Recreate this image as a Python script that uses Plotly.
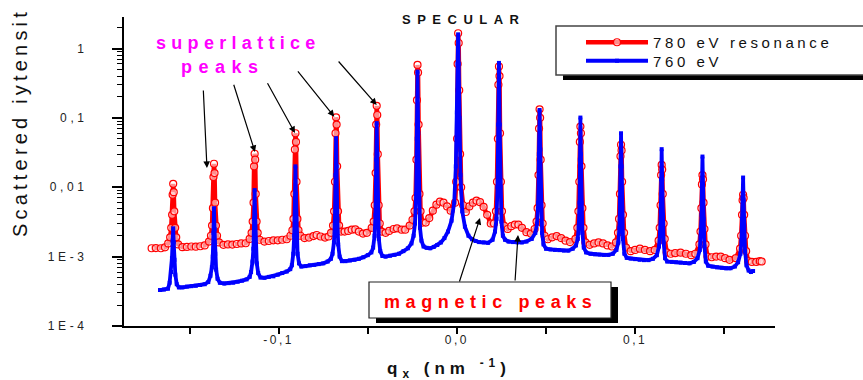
import plotly.graph_objects as go

# ---------------- data ----------------
# 780 eV resonance (red, open circles)
red_q = (
    [-0.1713, -0.1689, -0.1661, -0.1638]
    + [-0.1620, -0.1609, -0.1603, -0.1598, -0.1595, -0.1592, -0.1589, -0.1586, -0.1581, -0.1575, -0.1564]
    + [-0.1540, -0.1515, -0.1490, -0.1465, -0.1440, -0.1415]
    + [-0.1391, -0.1380, -0.1374, -0.1369, -0.1366, -0.1363, -0.1360, -0.1357, -0.1352, -0.1346, -0.1335]
    + [-0.1310, -0.1285, -0.1260, -0.1235, -0.1210, -0.1185]
    + [-0.1163, -0.1152, -0.1146, -0.1141, -0.1138, -0.1135, -0.1132, -0.1129, -0.1124, -0.1118, -0.1107]
    + [-0.1080, -0.1055, -0.1030, -0.1005, -0.0980, -0.0955]
    + [-0.0934, -0.0923, -0.0917, -0.0912, -0.0909, -0.0906, -0.0903, -0.0900, -0.0895, -0.0889, -0.0878]
    + [-0.0855, -0.0830, -0.0805, -0.0787, -0.0765, -0.0740, -0.0720]
    + [-0.0706, -0.0695, -0.0689, -0.0684, -0.0681, -0.0678, -0.0675, -0.0672, -0.0667, -0.0661, -0.0650]
    + [-0.0630, -0.0610, -0.0590, -0.0570, -0.0550, -0.0527, -0.0505]
    + [-0.0478, -0.0467, -0.0461, -0.0456, -0.0453, -0.0450, -0.0447, -0.0444, -0.0439, -0.0433, -0.0422]
    + [-0.0400, -0.0380, -0.0355, -0.0336, -0.0310, -0.0290, -0.0265]
    + [-0.0249, -0.0238, -0.0232, -0.0227, -0.0224, -0.0221, -0.0218, -0.0215, -0.0210, -0.0204, -0.0193]
    + [-0.0175, -0.0155, -0.0135, -0.0115, -0.0095, -0.0075, -0.0055, -0.0035]
    + [-0.0010, -0.0004, 0.0001, 0.0004, 0.0007, 0.0010, 0.0013, 0.0018, 0.0024, 0.0035]
    + [0.0050, 0.0070, 0.0090, 0.0110, 0.0130, 0.0150, 0.0170, 0.0190]
    + [0.0208, 0.0219, 0.0225, 0.0230, 0.0233, 0.0236, 0.0239, 0.0242, 0.0247, 0.0253, 0.0264]
    + [0.0285, 0.0305, 0.0325, 0.0345, 0.0365, 0.0390, 0.0415]
    + [0.0436, 0.0447, 0.0453, 0.0458, 0.0461, 0.0464, 0.0467, 0.0470, 0.0475, 0.0481, 0.0492]
    + [0.0510, 0.0535, 0.0560, 0.0585, 0.0610, 0.0635]
    + [0.0665, 0.0676, 0.0682, 0.0687, 0.0690, 0.0693, 0.0696, 0.0699, 0.0704, 0.0710, 0.0721]
    + [0.0745, 0.0770, 0.0795, 0.0820, 0.0845, 0.0870]
    + [0.0893, 0.0904, 0.0910, 0.0915, 0.0918, 0.0921, 0.0924, 0.0927, 0.0932, 0.0938, 0.0949]
    + [0.0975, 0.1000, 0.1027, 0.1055, 0.1084, 0.1110]
    + [0.1132, 0.1138, 0.1143, 0.1146, 0.1149, 0.1152, 0.1155, 0.1160, 0.1166, 0.1177]
    + [0.1200, 0.1225, 0.1255, 0.1285, 0.1315, 0.1338]
    + [0.1361, 0.1367, 0.1372, 0.1375, 0.1378, 0.1381, 0.1384, 0.1389, 0.1395, 0.1406]
    + [0.1430, 0.1455, 0.1480, 0.1505, 0.1530, 0.1565]
    + [0.1589, 0.1595, 0.1600, 0.1603, 0.1606, 0.1609, 0.1612, 0.1617, 0.1623, 0.1634]
    + [0.1655, 0.1680, 0.1700, 0.1710]
)
red_int = (
    [1.32e-3, 1.33e-3, 1.32e-3, 1.36e-3]
    + [1.55e-3, 1.9e-3, 2.6e-3, 4.0e-3, 7.8e-3, 1.12e-2, 8.5e-3, 4.5e-3, 2.6e-3, 1.9e-3, 1.5e-3]
    + [1.37e-3, 1.38e-3, 1.40e-3, 1.39e-3, 1.41e-3, 1.45e-3]
    + [1.65e-3, 2.0e-3, 2.8e-3, 5.0e-3, 1.4e-2, 2.18e-2, 1.6e-2, 6.0e-3, 2.8e-3, 2.0e-3, 1.6e-3]
    + [1.48e-3, 1.50e-3, 1.49e-3, 1.52e-3, 1.55e-3, 1.56e-3]
    + [1.8e-3, 2.2e-3, 3.2e-3, 6.0e-3, 2.0e-2, 3.04e-2, 2.5e-2, 8.0e-3, 3.2e-3, 2.2e-3, 1.75e-3]
    + [1.65e-3, 1.68e-3, 1.72e-3, 1.72e-3, 1.75e-3, 1.78e-3]
    + [2.0e-3, 2.4e-3, 3.5e-3, 8.0e-3, 3.5e-2, 6.0e-2, 4.5e-2, 1.2e-2, 3.5e-3, 2.4e-3, 2.0e-3]
    + [1.85e-3, 1.88e-3, 1.98e-3, 2.05e-3, 1.95e-3, 1.88e-3, 1.95e-3]
    + [2.2e-3, 2.8e-3, 4.5e-3, 1.2e-2, 6.0e-2, 1.02e-1, 8.0e-2, 2.0e-2, 4.5e-3, 2.8e-3, 2.3e-3]
    + [2.3e-3, 2.35e-3, 2.45e-3, 2.47e-3, 2.3e-3, 2.15e-3, 2.2e-3]
    + [2.6e-3, 3.2e-3, 5.5e-3, 1.6e-2, 8.0e-2, 1.49e-1, 1.1e-1, 3.0e-2, 5.5e-3, 3.0e-3, 2.3e-3]
    + [2.2e-3, 2.35e-3, 2.5e-3, 2.56e-3, 2.45e-3, 2.45e-3, 2.8e-3]
    + [3.4e-3, 4.5e-3, 7.0e-3, 2.5e-2, 1.8e-1, 5.8e-1, 4.5e-1, 8.0e-2, 8.0e-3, 4.5e-3, 3.1e-3]
    + [3.1e-3, 3.6e-3, 4.6e-3, 5.6e-3, 6.2e-3, 6.0e-3, 5.3e-3, 4.6e-3]
    + [6.0e-3, 1.2e-2, 5.0e-2, 6.0e-1, 1.66, 1.2, 2.5e-1, 3.0e-2, 1.0e-2, 5.5e-3]
    + [4.4e-3, 5.3e-3, 6.0e-3, 6.4e-3, 6.1e-3, 5.2e-3, 4.0e-3, 3.0e-3]
    + [3.0e-3, 4.5e-3, 1.2e-2, 5.0e-2, 3.0e-1, 5.5e-1, 4.0e-1, 6.0e-2, 1.2e-2, 4.5e-3, 2.8e-3]
    + [2.5e-3, 2.75e-3, 2.9e-3, 2.9e-3, 2.6e-3, 2.25e-3, 2.15e-3]
    + [2.5e-3, 3.2e-3, 5.0e-3, 1.5e-2, 7.0e-2, 1.33e-1, 1.0e-1, 2.5e-2, 5.5e-3, 3.0e-3, 2.0e-3]
    + [1.78e-3, 1.9e-3, 1.98e-3, 1.85e-3, 1.7e-3, 1.62e-3]
    + [1.8e-3, 2.6e-3, 4.5e-3, 1.2e-2, 4.5e-2, 7.5e-2, 6.0e-2, 2.0e-2, 5.0e-3, 2.6e-3, 1.6e-3]
    + [1.48e-3, 1.55e-3, 1.6e-3, 1.55e-3, 1.45e-3, 1.4e-3]
    + [1.6e-3, 2.2e-3, 3.5e-3, 8.0e-3, 2.8e-2, 4.1e-2, 3.4e-2, 1.2e-2, 4.0e-3, 2.2e-3, 1.35e-3]
    + [1.2e-3, 1.25e-3, 1.3e-3, 1.25e-3, 1.2e-3, 1.25e-3]
    + [1.7e-3, 2.6e-3, 5.5e-3, 1.5e-2, 2.1e-2, 1.8e-2, 8.0e-3, 3.0e-3, 1.8e-3, 1.15e-3]
    + [1.1e-3, 1.12e-3, 1.14e-3, 1.1e-3, 1.05e-3, 1.1e-3]
    + [1.5e-3, 2.3e-3, 5.0e-3, 1.1e-2, 1.5e-2, 1.3e-2, 6.0e-3, 2.5e-3, 1.5e-3, 1.0e-3]
    + [9.8e-4, 1.0e-3, 1.0e-3, 9.5e-4, 9.0e-4, 9.5e-4]
    + [1.3e-3, 2.0e-3, 4.0e-3, 6.5e-3, 7.8e-3, 7.0e-3, 4.0e-3, 2.0e-3, 1.2e-3, 8.6e-4]
    + [8.4e-4, 8.4e-4, 8.6e-4, 8.5e-4]
)

# 760 eV (blue, small squares)
blue_q = (
    [-0.1666, -0.1644, -0.1621]
    + [-0.1612, -0.1604, -0.1599, -0.1595, -0.1592, -0.1589, -0.1585, -0.1580, -0.1572, -0.1560]
    + [-0.1540, -0.1515, -0.1490, -0.1465, -0.1440, -0.1415, -0.1395]
    + [-0.1383, -0.1375, -0.1370, -0.1366, -0.1363, -0.1360, -0.1356, -0.1351, -0.1343, -0.1330]
    + [-0.1305, -0.1280, -0.1255, -0.1230, -0.1205, -0.1180, -0.1163]
    + [-0.1155, -0.1147, -0.1142, -0.1138, -0.1135, -0.1132, -0.1128, -0.1123, -0.1115, -0.1102]
    + [-0.1080, -0.1055, -0.1030, -0.1005, -0.0980, -0.0955, -0.0935]
    + [-0.0926, -0.0918, -0.0913, -0.0909, -0.0906, -0.0903, -0.0899, -0.0894, -0.0886, -0.0873]
    + [-0.0850, -0.0825, -0.0800, -0.0775, -0.0750, -0.0725, -0.0707]
    + [-0.0698, -0.0690, -0.0685, -0.0681, -0.0678, -0.0675, -0.0671, -0.0666, -0.0658, -0.0645]
    + [-0.0625, -0.0600, -0.0575, -0.0550, -0.0525, -0.0500, -0.0480]
    + [-0.0470, -0.0462, -0.0457, -0.0453, -0.0450, -0.0447, -0.0443, -0.0438, -0.0430, -0.0418]
    + [-0.0400, -0.0375, -0.0350, -0.0325, -0.0300, -0.0275, -0.0255]
    + [-0.0243, -0.0235, -0.0229, -0.0225, -0.0221, -0.0217, -0.0213, -0.0207, -0.0199, -0.0187]
    + [-0.0170, -0.0150, -0.0130, -0.0110, -0.0090, -0.0070, -0.0050, -0.0030]
    + [-0.0015, -0.0006, 0.0000, 0.0004, 0.0007, 0.0010, 0.0014, 0.0020, 0.0030, 0.0045]
    + [0.0065, 0.0085, 0.0105, 0.0125, 0.0150, 0.0175, 0.0200]
    + [0.0214, 0.0222, 0.0228, 0.0232, 0.0236, 0.0240, 0.0244, 0.0250, 0.0258, 0.0270]
    + [0.0290, 0.0315, 0.0340, 0.0365, 0.0390, 0.0420]
    + [0.0440, 0.0450, 0.0456, 0.0460, 0.0464, 0.0468, 0.0472, 0.0478, 0.0486, 0.0500]
    + [0.0525, 0.0550, 0.0575, 0.0600, 0.0625, 0.0650, 0.0668]
    + [0.0678, 0.0684, 0.0688, 0.0690, 0.0693, 0.0696, 0.0699, 0.0704, 0.0712, 0.0725]
    + [0.0750, 0.0775, 0.0800, 0.0825, 0.0850, 0.0875, 0.0895]
    + [0.0906, 0.0912, 0.0916, 0.0918, 0.0921, 0.0924, 0.0927, 0.0932, 0.0940, 0.0953]
    + [0.0975, 0.1000, 0.1025, 0.1050, 0.1075, 0.1100, 0.1122]
    + [0.1134, 0.1140, 0.1144, 0.1146, 0.1149, 0.1152, 0.1155, 0.1160, 0.1168, 0.1180]
    + [0.1205, 0.1230, 0.1255, 0.1280, 0.1305, 0.1330, 0.1350]
    + [0.1363, 0.1369, 0.1373, 0.1375, 0.1378, 0.1381, 0.1384, 0.1389, 0.1397, 0.1410]
    + [0.1435, 0.1460, 0.1485, 0.1510, 0.1535, 0.1560, 0.1578]
    + [0.1591, 0.1597, 0.1601, 0.1603, 0.1606, 0.1609, 0.1612, 0.1617, 0.1625, 0.1637]
    + [0.1650, 0.1662]
)
blue_int = (
    [3.3e-4, 3.35e-4, 3.45e-4]
    + [4.2e-4, 6.0e-4, 9.5e-4, 1.7e-3, 2.56e-3, 1.6e-3, 9.0e-4, 5.5e-4, 4.0e-4, 3.6e-4]
    + [3.6e-4, 3.7e-4, 3.75e-4, 3.8e-4, 3.9e-4, 4.0e-4, 4.3e-4]
    + [5.3e-4, 7.0e-4, 1.0e-3, 2.2e-3, 4.98e-3, 2.5e-3, 1.1e-3, 6.5e-4, 4.8e-4, 4.2e-4]
    + [4.1e-4, 4.15e-4, 4.2e-4, 4.35e-4, 4.5e-4, 4.7e-4, 5.1e-4]
    + [6.0e-4, 8.5e-4, 1.3e-3, 3.5e-3, 9.1e-3, 4.0e-3, 1.4e-3, 8.0e-4, 5.8e-4, 5.0e-4]
    + [4.95e-4, 5.1e-4, 5.2e-4, 5.5e-4, 5.8e-4, 6.1e-4, 6.6e-4]
    + [7.5e-4, 1.1e-3, 2.0e-3, 7.0e-3, 2.0e-2, 8.0e-3, 2.2e-3, 1.1e-3, 8.0e-4, 7.2e-4]
    + [7.3e-4, 7.5e-4, 7.6e-4, 7.8e-4, 8.0e-4, 8.5e-4, 9.3e-4]
    + [1.1e-3, 1.6e-3, 3.0e-3, 1.5e-2, 5.1e-2, 2.0e-2, 3.5e-3, 1.5e-3, 1.0e-3, 8.6e-4]
    + [8.6e-4, 8.8e-4, 9.0e-4, 9.3e-4, 9.8e-4, 1.05e-3, 1.15e-3]
    + [1.35e-3, 2.0e-3, 4.0e-3, 2.5e-2, 8.4e-2, 3.0e-2, 4.5e-3, 1.8e-3, 1.2e-3, 1.02e-3]
    + [1.0e-3, 1.03e-3, 1.06e-3, 1.1e-3, 1.2e-3, 1.32e-3, 1.55e-3]
    + [2.0e-3, 3.0e-3, 8.0e-3, 5.0e-2, 4.65e-1, 6.0e-2, 8.0e-3, 2.6e-3, 1.7e-3, 1.4e-3]
    + [1.34e-3, 1.32e-3, 1.38e-3, 1.47e-3, 1.6e-3, 1.85e-3, 2.3e-3, 3.3e-3]
    + [6.0e-3, 2.0e-2, 1.2e-1, 6.0e-1, 1.6, 6.0e-1, 1.0e-1, 1.5e-2, 4.5e-3, 2.7e-3]
    + [2.0e-3, 1.78e-3, 1.68e-3, 1.62e-3, 1.6e-3, 1.58e-3, 1.75e-3]
    + [2.3e-3, 3.5e-3, 1.0e-2, 8.0e-2, 6.2e-1, 8.0e-2, 1.0e-2, 3.2e-3, 2.0e-3, 1.75e-3]
    + [1.65e-3, 1.62e-3, 1.6e-3, 1.6e-3, 1.65e-3, 1.8e-3]
    + [2.2e-3, 3.0e-3, 6.0e-3, 3.0e-2, 1.3e-1, 3.5e-2, 6.0e-3, 2.2e-3, 1.5e-3, 1.3e-3]
    + [1.27e-3, 1.25e-3, 1.24e-3, 1.22e-3, 1.22e-3, 1.3e-3, 1.45e-3]
    + [1.8e-3, 2.8e-3, 6.0e-3, 2.5e-2, 1.01e-1, 3.0e-2, 6.0e-3, 2.2e-3, 1.35e-3, 1.15e-3]
    + [1.1e-3, 1.08e-3, 1.07e-3, 1.06e-3, 1.06e-3, 1.1e-3, 1.25e-3]
    + [1.6e-3, 2.6e-3, 5.5e-3, 2.0e-2, 6.0e-2, 2.0e-2, 5.0e-3, 1.8e-3, 1.1e-3, 9.6e-4]
    + [9.4e-4, 9.2e-4, 9.0e-4, 8.9e-4, 8.9e-4, 9.3e-4, 1.05e-3]
    + [1.4e-3, 2.2e-3, 4.5e-3, 1.3e-2, 3.54e-2, 1.3e-2, 4.0e-3, 1.6e-3, 9.5e-4, 8.5e-4]
    + [8.4e-4, 8.3e-4, 8.2e-4, 8.1e-4, 8.0e-4, 8.4e-4, 9.5e-4]
    + [1.25e-3, 2.0e-3, 4.0e-3, 1.1e-2, 2.77e-2, 1.1e-2, 3.5e-3, 1.4e-3, 8.5e-4, 7.4e-4]
    + [7.2e-4, 7.0e-4, 6.9e-4, 6.8e-4, 6.8e-4, 7.2e-4, 8.3e-4]
    + [1.1e-3, 1.7e-3, 3.5e-3, 7.0e-3, 1.38e-2, 6.5e-3, 2.8e-3, 1.2e-3, 7.5e-4, 6.3e-4]
    + [6.0e-4, 6.2e-4]
)
assert len(red_q) == len(red_int)
assert len(blue_q) == len(blue_int)

series_names = ["780 eV resonance", "760 eV"]
y_tick_vals = [1e-4, 1e-3, 1e-2, 1e-1, 1]
y_tick_text = ["1E-4", "1E-3", "0,01", "0,1", "1"]
x_tick_vals = [-0.15, -0.1, -0.05, 0.0, 0.05, 0.1, 0.15]
x_tick_text = ["", "-0,1", "", "0,0", "", "0,1", ""]

# ---------------- layout helpers ----------------
W, H = 863, 380
ML, MR, MT, MB = 124, 88, 17, 54
PW, PH = W - ML - MR, H - MT - MB
FONT = "Arial, Liberation Sans, sans-serif"


def px_x(px):
    return (px - ML) / PW


def px_y(py):
    return (H - MB - py) / PH


def sp(text, s):
    return f'<span style="letter-spacing:{s}px">{text}</span>'


fig = go.Figure()
fig.add_trace(go.Scatter(
    x=red_q, y=red_int, mode="lines+markers", name=sp(series_names[0], 3.6),
    line=dict(color="#FF0000", width=4.5),
    marker=dict(symbol="circle", size=7, color="rgba(255,255,255,0.55)",
                line=dict(color="#FF0000", width=1.2)),
    legend="legend",
))
fig.add_trace(go.Scatter(
    x=blue_q, y=blue_int, mode="lines+markers", name=sp(series_names[1], 3.6),
    line=dict(color="#0000FF", width=3.8),
    marker=dict(symbol="square", size=4, color="#0000FF"),
    legend="legend2",
))

shapes = [
    # legend box shadow + box
    dict(type="rect", xref="paper", yref="paper", x0=px_x(563), x1=px_x(880), y0=px_y(80), y1=px_y(33),
         fillcolor="black", line=dict(width=0), layer="above"),
    dict(type="rect", xref="paper", yref="paper", x0=px_x(556), x1=px_x(880), y0=px_y(75), y1=px_y(26),
         fillcolor="white", line=dict(color="#444444", width=1.5), layer="above"),
    # magnetic peaks label box shadow + box
    dict(type="rect", xref="paper", yref="paper", x0=px_x(376), x1=px_x(618), y0=px_y(323), y1=px_y(287),
         fillcolor="black", line=dict(width=0), layer="above"),
    dict(type="rect", xref="paper", yref="paper", x0=px_x(369), x1=px_x(611), y0=px_y(318), y1=px_y(282),
         fillcolor="white", line=dict(color="#222222", width=1.2), layer="above"),
]

annotations = [
    dict(text=sp("<b>SPECULAR</b>", 6.5), x=px_x(464), y=px_y(19), xref="paper", yref="paper",
         showarrow=False, font=dict(size=13, color="#111", family=FONT), xanchor="center", yanchor="middle"),
    dict(text=sp("<b>superlattice</b>", 5.3), x=px_x(238), y=px_y(43), xref="paper", yref="paper",
         showarrow=False, font=dict(size=18, color="#FF00FF", family=FONT), xanchor="center", yanchor="middle"),
    dict(text=sp("<b>peaks</b>", 6.5), x=px_x(223), y=px_y(67), xref="paper", yref="paper",
         showarrow=False, font=dict(size=18, color="#FF00FF", family=FONT), xanchor="center", yanchor="middle"),
    dict(text=sp("<b>magnetic peaks</b>", 5.6), x=px_x(490), y=px_y(302), xref="paper", yref="paper",
         showarrow=False, font=dict(size=18, color="#FF0000", family=FONT), xanchor="center", yanchor="middle"),
    dict(text=sp("Scattered iytensit", 4.2), x=px_x(20), y=px_y(123), xref="paper", yref="paper",
         showarrow=False, textangle=-90, font=dict(size=20, color="#111", family=FONT),
         xanchor="center", yanchor="middle"),
    dict(text=sp("<b>q<sub>x</sub> (nm <sup>-1</sup>)</b>", 5), x=px_x(449), y=px_y(368), xref="paper", yref="paper",
         showarrow=False, font=dict(size=17, color="#111", family=FONT), xanchor="center", yanchor="middle"),
]

# arrows: head in data coords (q, log10 I), tail offset in pixels
arrows = [
    (-0.14024, -1.7225, -3.7, -79),
    (-0.11330, -1.4919, -21.7, -68.7),
    (-0.09085, -1.2180, -28.3, -51.3),
    (-0.06880, -0.9830, -37.6, -46.7),
    (-0.04501, -0.8144, -39.4, -45),
    (0.01296, -2.4432, -21, 65),
    (0.03429, -2.6883, -3, 47),
]
for hx, hy, ax, ay in arrows:
    annotations.append(dict(
        x=hx, y=hy, xref="x", yref="y", ax=ax, ay=ay, text="", showarrow=True,
        arrowhead=2, arrowsize=1.1, arrowwidth=1.2, arrowcolor="black", standoff=0,
    ))

legend_common = dict(xanchor="left", yanchor="top", bgcolor="rgba(0,0,0,0)", borderwidth=0,
                     itemwidth=62, font=dict(size=15, color="#111", family=FONT))

fig.update_layout(
    width=W, height=H,
    margin=dict(l=ML, r=MR, t=MT, b=MB, pad=0, autoexpand=False),
    paper_bgcolor="white", plot_bgcolor="white",
    font=dict(family=FONT, color="#111"),
    showlegend=True,
    legend=dict(x=px_x(581), y=px_y(26), **legend_common),
    legend2=dict(x=px_x(581), y=px_y(44.5), **legend_common),
    shapes=shapes,
    annotations=annotations,
    xaxis=dict(
        range=[-0.1868, 0.1785], showline=True, linecolor="black", linewidth=2,
        ticks="outside", ticklen=6, tickwidth=1.5, tickcolor="black",
        tickvals=x_tick_vals, ticktext=[sp(t, 2.5) for t in x_tick_text],
        tickfont=dict(size=12, color="#222", family=FONT),
        showgrid=False, zeroline=False, mirror=False, automargin=False,
        ticklabelstandoff=-4,
    ),
    yaxis=dict(
        type="log", range=[-4, 0.454], showline=True, linecolor="black", linewidth=2,
        ticks="outside", ticklen=10, tickwidth=1.5, tickcolor="black",
        tickvals=y_tick_vals, ticktext=[sp(t, 3.6) for t in y_tick_text],
        tickfont=dict(size=12, color="#222", family=FONT),
        minor=dict(ticks="outside", ticklen=5, tickwidth=1, tickcolor="black", dtick="D1", showgrid=False),
        showgrid=False, zeroline=False, ticklabelstandoff=22, automargin=False,
    ),
)

fig.write_html("out.html", post_script="document.body.style.margin='0';",
               config={"displayModeBar": False})
